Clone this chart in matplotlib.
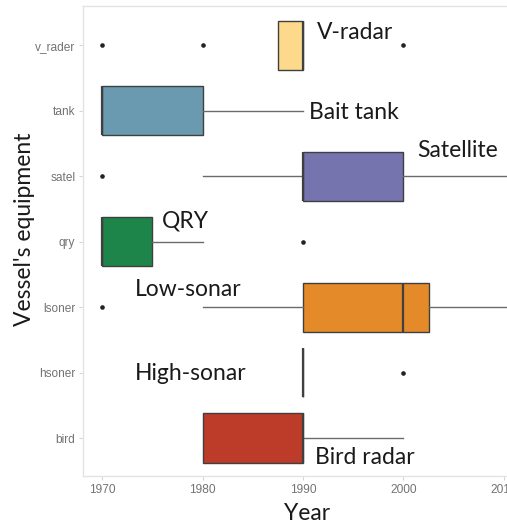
import matplotlib
import matplotlib.pyplot as plt

matplotlib.use("Agg")
matplotlib.rcParams["font.family"] = "sans-serif"
matplotlib.rcParams["font.sans-serif"] = ["Liberation Sans", "DejaVu Sans"]

# categories, bottom to top
equipment = ["bird", "hsoner", "lsoner", "qry", "satel", "tank", "v_rader"]
labels = ["Bird radar", "High-sonar", "Low-sonar", "QRY", "Satellite", "Bait tank", "V-radar"]

# box statistics (year)
q1 = [1980, 1990, 1990, 1970, 1990, 1970, 1987.5]
med = [1990, 1990, 2000, 1970, 1990, 1970, 1990]
q3 = [1990, 1990, 2002.5, 1975, 2000, 1980, 1990]
whislo = [1980, 1990, 1980, 1970, 1980, 1970, 1987.5]
whishi = [2000, 1990, 2015, 1980, 2015, 1990, 1990]
fliers = [[], [2000], [1970], [1990], [1970], [], [1970, 1980, 2000]]

colors = ["#BD3B29", "#FFFFFF", "#E48A29", "#1E854A", "#7674AF", "#6A9AAF", "#FDD98C"]

# label positions (data coords)
label_x = [1991.2, 1973.3, 1973.3, 1976.0, 2001.4, 1990.6, 1991.4]
label_y = [-0.39, 0.89, 2.17, 3.22, 4.29, 4.88, 6.10]

fig = plt.figure(figsize=(5.07, 5.24), dpi=100)
ax = fig.add_axes([83 / 507, 48 / 524, 441 / 507, 470 / 524])

stats = []
for i, name in enumerate(equipment):
    stats.append({
        "label": name, "q1": q1[i], "med": med[i], "q3": q3[i],
        "whislo": whislo[i], "whishi": whishi[i], "fliers": fliers[i],
    })

bp = ax.bxp(
    stats, positions=range(len(equipment)), vert=False, widths=0.75,
    patch_artist=True, showcaps=False,
    boxprops=dict(edgecolor="#3f3f3f", linewidth=1),
    medianprops=dict(color="#3f3f3f", linewidth=1.6),
    whiskerprops=dict(color="#6b6b6b", linewidth=1),
    flierprops=dict(marker="o", markersize=2.3, markerfacecolor="#222222",
                    markeredgecolor="#222222"),
)
for patch, c in zip(bp["boxes"], colors):
    patch.set_facecolor(c)

for x, y, t in zip(label_x, label_y, labels):
    ax.text(x, y, t, fontsize=16.5, family="Lato", va="baseline", ha="left",
            color="#1a1a1a")

ax.set_xlim(1968.1, 2012)
ax.set_ylim(-0.58, 6.6)
ax.set_xticks([1970, 1980, 1990, 2000, 2010])
ax.set_yticks(range(len(equipment)))
ax.set_yticklabels(equipment)
ax.tick_params(colors="#d6d6d6", labelcolor="#737373", labelsize=8.6, length=3, width=0.8, pad=2.5)
for s in ax.spines.values():
    s.set_color("#e3e3e3")
    s.set_linewidth(1)

fig.text(307 / 507, 4 / 524, "Year", fontsize=16.5, family="Lato", ha="center",
         va="baseline", color="#1a1a1a")
fig.text(25 / 507, 1 - 229 / 524, "Vessel's equipment", fontsize=16.5, family="Lato",
         rotation=90, ha="center", va="center", color="#1a1a1a")

fig.savefig("out.png", dpi=100)
